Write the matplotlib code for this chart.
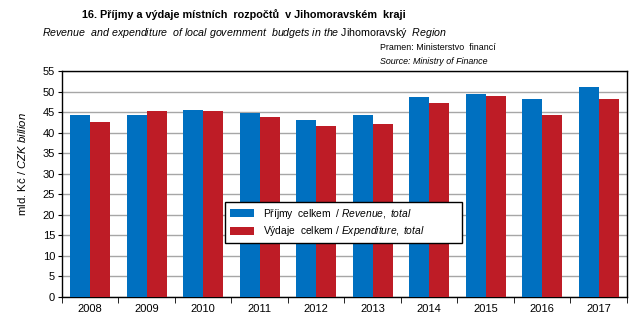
import matplotlib.pyplot as plt
import numpy as np
from matplotlib import font_manager

# use a narrow face if the sandbox has one, the reference text is condensed
names = {f.name for f in font_manager.fontManager.ttflist}
narrow = 'Liberation Sans Narrow' in names
base = 'Liberation Sans Narrow' if narrow else 'Liberation Sans'
k = 1.0 if narrow else 0.82

plt.rcParams['font.family'] = [base, 'DejaVu Sans']
plt.rcParams['mathtext.fontset'] = 'custom'
plt.rcParams['mathtext.rm'] = base
plt.rcParams['mathtext.it'] = base + ':italic'

# data (mld. Kč)
years = ['2008', '2009', '2010', '2011', '2012', '2013', '2014', '2015', '2016', '2017']
revenue = [44.3, 44.3, 45.5, 44.8, 43.1, 44.3, 48.7, 49.4, 48.2, 51.1]
expenditure = [42.6, 45.2, 45.2, 43.8, 41.6, 42.1, 47.2, 48.9, 44.3, 48.2]

blue = '#0070C0'
red = '#BE1C26'

fig = plt.figure(figsize=(6.43, 3.31), dpi=100)
ax = fig.add_axes([0.0964, 0.104, 0.8786, 0.6815])

x = np.arange(len(years))
w = 0.354
ax.bar(x - w / 2, revenue, w, color=blue, zorder=3,
       label=r'Příjmy  celkem  / $\it{Revenue,\ total}$')
ax.bar(x + w / 2, expenditure, w, color=red, zorder=3,
       label=r'Výdaje  celkem / $\it{Expenditure,\ total}$')

ax.set_xlim(-0.5, len(years) - 0.5)
ax.set_ylim(0, 55)
ax.set_yticks(np.arange(0, 56, 5))
ax.yaxis.grid(True, color='#A6A6A6', linewidth=1, zorder=0)
ax.tick_params(axis='y', labelsize=8, length=3, direction='out', pad=2)

ax.set_xticks(x)
ax.set_xticklabels(years, fontsize=8)
ax.tick_params(axis='x', length=0, pad=5)
ax.set_xticks(np.arange(-0.5, len(years)), minor=True)
ax.tick_params(axis='x', which='minor', length=4, direction='out')

for s in ax.spines.values():
    s.set_color('black')
    s.set_linewidth(1)

leg = ax.legend(loc='upper left', bbox_to_anchor=(0.2885, 0.319, 0.4195, 0.1),
                mode='expand', fontsize=9 * k,
                frameon=True, fancybox=False, edgecolor='black', framealpha=1,
                handlelength=2.4, handleheight=0.8, borderpad=0.45,
                labelspacing=0.35, handletextpad=0.9, borderaxespad=0)
leg.get_frame().set_linewidth(1)
leg.set_zorder(5)

fig.text(22 / 643, 1 - 164 / 331, r'mld. Kč / $\it{CZK\ billion}$', rotation=90,
         ha='center', va='center', fontsize=10 * k)

fig.text(244 / 643, 1 - 15 / 331,
         '16. Příjmy a výdaje místních  rozpočtů  v Jihomoravském  kraji',
         ha='center', va='center', fontsize=9.6 * k, fontweight='bold')
fig.text(244 / 643, 1 - 33 / 331,
         r'$\it{Revenue\ \ and\ expenditure\ \ of\ local\ government\ \ budgets\ in\ the}$'
         r' Jihomoravský  $\it{Region}$',
         ha='center', va='center', fontsize=9.3 * k)

fig.text(380 / 643, 1 - 48 / 331, 'Pramen: Ministerstvo  financí',
         ha='left', va='center', fontsize=7.8 * k)
fig.text(380 / 643, 1 - 62 / 331, 'Source: Ministry of Finance',
         ha='left', va='center', fontsize=7.8 * k, fontstyle='italic')

fig.savefig('out.png', dpi=100)
